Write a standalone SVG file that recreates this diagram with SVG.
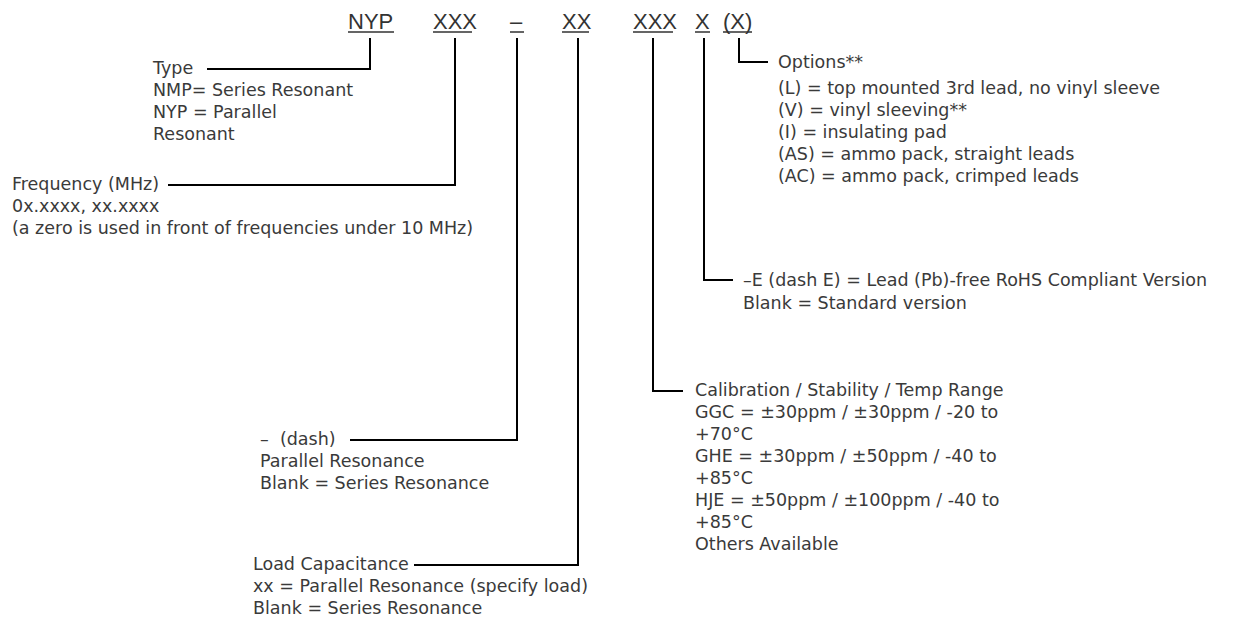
<svg xmlns="http://www.w3.org/2000/svg" width="1235" height="628" viewBox="0 0 1235 628">
<style>
.t{font-family:"DejaVu Sans","Liberation Sans",sans-serif;font-size:17.5px;fill:#3a3a3a}
.h{font-family:"Liberation Sans",Arial,sans-serif;font-size:22px;fill:#333}
.u{stroke:#333;stroke-width:1.5;fill:none}
.c{stroke:#000;stroke-width:2;fill:none}
</style>
<rect width="1235" height="628" fill="#fff"/>
<g id="header">
<text class="h" x="348" y="29">NYP</text>
<text class="h" x="433" y="29">XXX</text>
<text class="h" x="510" y="29">–</text>
<text class="h" x="562" y="29">XX</text>
<text class="h" x="633" y="29">XXX</text>
<text class="h" x="695" y="29">X</text>
<text class="h" x="723" y="29">(X)</text>
<path class="u" d="M348 32H394M433 32H472M510 32H524M562 32H589M633 32H673M695 32H710M723 32H752"/>
</g>
<g id="connectors">
<path class="c" d="M370 38V69H207"/>
<path class="c" d="M455 38V185H168"/>
<path class="c" d="M517 38V440H350"/>
<path class="c" d="M578 38V565H414"/>
<path class="c" d="M653 38V391H683"/>
<path class="c" d="M704 38V280H733"/>
<path class="c" d="M739 38V62H768"/>
</g>
<g id="type">
<text class="t" x="153" y="74">Type</text>
<text class="t" x="153" y="96">NMP= Series Resonant</text>
<text class="t" x="153" y="118">NYP = Parallel</text>
<text class="t" x="153" y="140">Resonant</text>
</g>
<g id="frequency">
<text class="t" x="12" y="190">Frequency (MHz)</text>
<text class="t" x="12" y="212">0x.xxxx, xx.xxxx</text>
<text class="t" x="12" y="234">(a zero is used in front of frequencies under 10 MHz)</text>
</g>
<g id="dash">
<text class="t" x="260" y="445" xml:space="preserve">–  (dash)</text>
<text class="t" x="260" y="467">Parallel Resonance</text>
<text class="t" x="260" y="489">Blank = Series Resonance</text>
</g>
<g id="load">
<text class="t" x="253" y="570">Load Capacitance</text>
<text class="t" x="253" y="592">xx = Parallel Resonance (specify load)</text>
<text class="t" x="253" y="614">Blank = Series Resonance</text>
</g>
<g id="calibration">
<text class="t" x="695" y="396">Calibration / Stability / Temp Range</text>
<text class="t" x="695" y="418">GGC = ±30ppm / ±30ppm / -20 to</text>
<text class="t" x="695" y="440">+70°C</text>
<text class="t" x="695" y="462">GHE = ±30ppm / ±50ppm / -40 to</text>
<text class="t" x="695" y="484">+85°C</text>
<text class="t" x="695" y="506">HJE = ±50ppm / ±100ppm / -40 to</text>
<text class="t" x="695" y="528">+85°C</text>
<text class="t" x="695" y="550">Others Available</text>
</g>
<g id="rohs">
<text class="t" x="743" y="286">–E (dash E) = Lead (Pb)-free RoHS Compliant Version</text>
<text class="t" x="743" y="309">Blank = Standard version</text>
</g>
<g id="options">
<text class="t" x="778" y="68">Options**</text>
<text class="t" x="778" y="94">(L) = top mounted 3rd lead, no vinyl sleeve</text>
<text class="t" x="778" y="116">(V) = vinyl sleeving**</text>
<text class="t" x="778" y="138">(I) = insulating pad</text>
<text class="t" x="778" y="160">(AS) = ammo pack, straight leads</text>
<text class="t" x="778" y="182">(AC) = ammo pack, crimped leads</text>
</g>
</svg>
